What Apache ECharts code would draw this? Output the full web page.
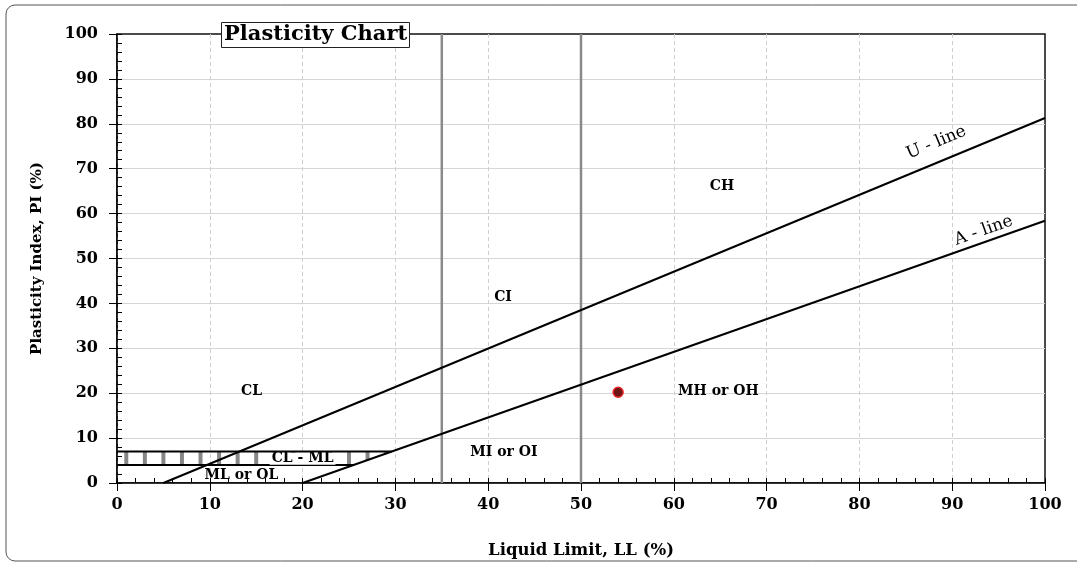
<!DOCTYPE html>
<html>
<head>
<meta charset="utf-8">
<script src="https://cdn.jsdelivr.net/npm/echarts@6/dist/echarts.min.js"></script>
<style>html,body{margin:0;padding:0;background:#fff}#c{width:1077px;height:565px}</style>
</head>
<body>
<div id="c"></div>
<script>
// ---- data ----
const xTicks = [0, 10, 20, 30, 40, 50, 60, 70, 80, 90, 100];
const yTicks = [0, 10, 20, 30, 40, 50, 60, 70, 80, 90, 100];
const uLineLL = [5, 100];
const uLinePI = [0, 81.3];
const aLineLL = [20, 100];
const aLinePI = [0, 58.4];
const divider1LL = [35, 35];
const divider2LL = [50, 50];
const dividerPI = [0, 100];
const bandTopLL = [0, 29.6];
const bandTopPI = [7, 7];
const bandBotLL = [0, 25.5];
const bandBotPI = [4, 4];
const hatchLL = [1, 3, 5, 7, 9, 11, 13, 15, 17, 19, 21, 23, 25, 27, 29];
const hatchLo = [4, 4, 4, 4, 4, 4, 4, 4, 4, 4, 4, 4, 4, 5.1, 6.6];
const hatchHi = [7, 7, 7, 7, 7, 7, 7, 7, 7, 7, 7, 7, 7, 7, 7];
const zoneNames = ['CL', 'CI', 'CH', 'MH or OH', 'MI or OI', 'CL - ML', 'ML or OL'];
const zoneLL = [14.5, 41.6, 65.2, 64.8, 41.7, 20.0, 13.4];
const zonePI = [20.5, 41.4, 66.1, 20.5, 6.9, 5.4, 1.8];
const lineLabelNames = ['U - line', 'A - line'];
const lineLabelLL = [88.3, 93.4];
const lineLabelPI = [75.8, 56.2];
const sampleLL = [54];
const samplePI = [20.2];

const zip = (a, b) => a.map((v, i) => [v, b[i]]);
const FONT = 'DejaVu Serif';

const chart = echarts.init(document.getElementById('c'), null, {renderer: 'canvas'});

const lineSeries = (data, color, width, z) => ({
  type: 'line', data: data, symbol: 'none', silent: true, animation: false, z: z,
  lineStyle: {color: color, width: width}, xAxisIndex: 0, yAxisIndex: 0
});

const option = {
  animation: false,
  backgroundColor: '#fff',
  title: {
    text: 'Plasticity Chart', left: 221, top: 22,
    padding: [1, 3, 1, 3],
    backgroundColor: '#fff', borderColor: '#222', borderWidth: 1,
    textStyle: {fontFamily: FONT, fontWeight: 'bold', fontSize: 21, color: '#000', lineHeight: 24}
  },
  graphic: [{
    type: 'rect', z: -1, silent: true,
    shape: {x: 6, y: 5, width: 1100, height: 556, r: 9},
    style: {fill: 'none', stroke: '#555', lineWidth: 1}
  }],
  grid: {left: 117, right: 32, top: 34, bottom: 82, show: true, borderColor: '#111', borderWidth: 1.5},
  xAxis: [{
    type: 'value', min: 0, max: 100, interval: 10,
    name: 'Liquid Limit, LL (%)', nameLocation: 'middle', nameGap: 59,
    nameTextStyle: {fontFamily: FONT, fontWeight: 'bold', fontSize: 16.5, color: '#000'},
    axisLine: {show: true, onZero: false, lineStyle: {color: '#000', width: 1.5}},
    axisTick: {show: true, inside: false, length: 8, lineStyle: {color: '#000', width: 1}},
    axisLabel: {margin: 14, fontFamily: FONT, fontWeight: 'bold', fontSize: 16, color: '#000',
      formatter: v => xTicks.includes(v) ? String(v) : ''},
    splitLine: {show: true, showMaxLine: false, lineStyle: {color: '#cfcfcf', type: [4, 3], width: 1}}
  }, {
    type: 'value', min: 0, max: 100, interval: 2, position: 'bottom',
    axisLine: {show: false}, axisLabel: {show: false}, splitLine: {show: false},
    axisTick: {show: true, inside: true, length: 5, lineStyle: {color: '#000', width: 1}}
  }],
  yAxis: [{
    type: 'value', min: 0, max: 100, interval: 10,
    name: 'Plasticity Index, PI (%)', nameLocation: 'middle', nameGap: 72, nameRotate: 90,
    nameTextStyle: {fontFamily: FONT, fontWeight: 'bold', fontSize: 15, color: '#000'},
    axisLine: {show: true, onZero: false, lineStyle: {color: '#000', width: 1.5}},
    axisTick: {show: true, inside: false, length: 8, lineStyle: {color: '#000', width: 1}},
    axisLabel: {margin: 19, fontFamily: FONT, fontWeight: 'bold', fontSize: 16, color: '#000',
      formatter: v => yTicks.includes(v) ? String(v) : ''},
    splitLine: {show: true, showMaxLine: false, lineStyle: {color: '#d6d6d6', width: 1}}
  }, {
    type: 'value', min: 0, max: 100, interval: 2, position: 'left',
    axisLine: {show: false}, axisLabel: {show: false}, splitLine: {show: false},
    axisTick: {show: true, inside: true, length: 5, lineStyle: {color: '#000', width: 1}}
  }],
  series: [
    lineSeries(zip(divider1LL, dividerPI), '#8a8a8a', 2.5, 2),
    lineSeries(zip(divider2LL, dividerPI), '#8a8a8a', 2.5, 2),
    {
      type: 'custom', silent: true, z: 3, clip: false,
      data: hatchLL.map((v, i) => [v, hatchLo[i], hatchHi[i]]),
      renderItem: function (params, api) {
        const p1 = api.coord([api.value(0), api.value(2)]);
        const p2 = api.coord([api.value(0), api.value(1)]);
        return {type: 'rect', shape: {x: p1[0] - 2, y: p1[1], width: 4, height: p2[1] - p1[1]},
          style: {fill: '#868686', stroke: null}};
      }
    },
    lineSeries(zip(bandTopLL, bandTopPI), '#000', 2, 8),
    lineSeries(zip(bandBotLL, bandBotPI), '#000', 2, 4),
    lineSeries(zip(uLineLL, uLinePI), '#000', 2, 4),
    lineSeries(zip(aLineLL, aLinePI), '#000', 2, 4),
    {
      type: 'scatter', silent: true, symbolSize: 0, z: 6,
      itemStyle: {opacity: 1},
      data: zoneNames.map((n, i) => ({name: n, value: [zoneLL[i], zonePI[i]],
        label: n === 'CL - ML' ? {backgroundColor: '#fff', padding: [0, 2], lineHeight: 12} : {}})),
      label: {show: true, position: 'inside', formatter: p => p.name,
        fontFamily: FONT, fontWeight: 'bold', fontSize: 14, color: '#000'}
    },
    {
      type: 'scatter', silent: true, symbolSize: 0, z: 6,
      itemStyle: {opacity: 1},
      data: lineLabelNames.map((n, i) => ({name: n, value: [lineLabelLL[i], lineLabelPI[i]],
        label: {rotate: i === 0 ? 22.5 : 19.4}})),
      label: {show: true, position: 'inside', formatter: p => p.name,
        fontFamily: FONT, fontSize: 17, color: '#000'}
    },
    {
      type: 'scatter', z: 7, symbol: 'circle', symbolSize: 10,
      data: zip(sampleLL, samplePI),
      itemStyle: {color: '#6e1414', borderColor: '#e8262a', borderWidth: 1.5, opacity: 1}
    }
  ]
};
chart.setOption(option);
</script>
</body>
</html>
